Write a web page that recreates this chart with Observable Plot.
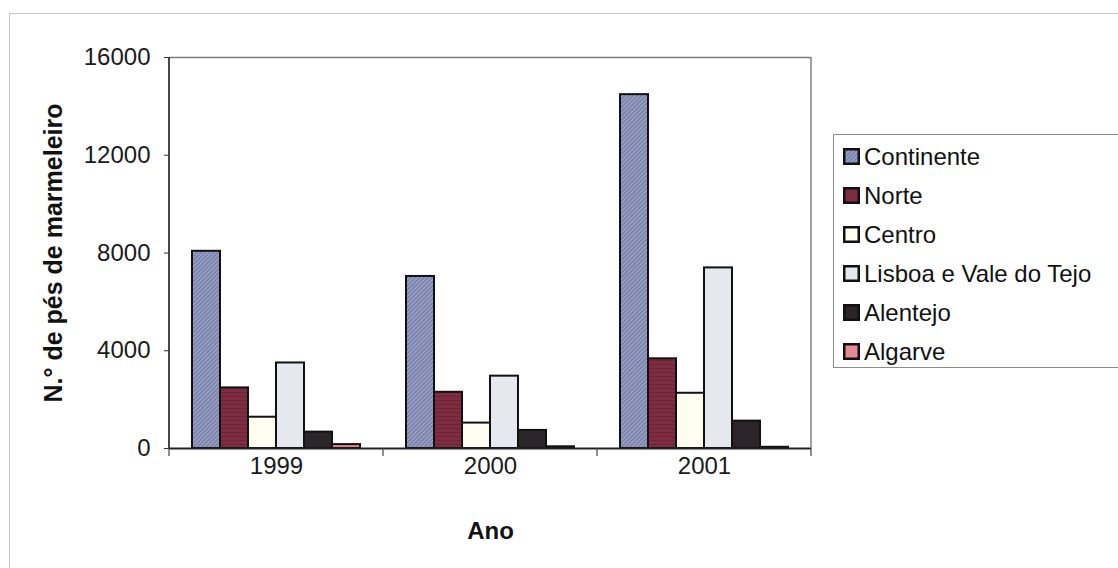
<!DOCTYPE html>
<html>
<head>
<meta charset="utf-8">
<script src="https://cdn.jsdelivr.net/npm/d3@7"></script>
<script src="https://cdn.jsdelivr.net/npm/@observablehq/plot@0.6"></script>
<style>
  html, body { margin: 0; padding: 0; background: #fff; overflow: hidden; }
  body { width: 1118px; height: 568px; position: relative; font-family: "Liberation Sans", Arial, sans-serif; }
  #sheet { position: absolute; left: 9px; top: 13px; width: 2000px; height: 2000px;
           border-left: 1.5px solid #c4c4c4; border-top: 1.5px solid #c4c4c4; }
  #chart { position: absolute; left: 0; top: 0; }
  #legend { position: absolute; left: 833px; top: 134px; width: 400px; height: 234px;
            border: 1px solid #8c8c8c; background: #fff; padding-top: 2px; box-sizing: border-box; }
  .row { height: 39px; display: flex; align-items: center; font-size: 24px; color: #111; }
  .row svg { margin-left: 9px; margin-right: 4px; flex: none; }
</style>
</head>
<body>
<svg width="0" height="0" style="position:absolute">
  <defs>
    <pattern id="hatchBlue" width="3" height="3" patternUnits="userSpaceOnUse" patternTransform="rotate(45)">
      <rect width="3" height="3" fill="#7b84ad"></rect>
      <rect width="1" height="3" fill="#a3abcb"></rect>
    </pattern>
    <pattern id="stripeRed" width="4" height="4" patternUnits="userSpaceOnUse">
      <rect width="4" height="4" fill="#7d2c41"></rect>
      <rect width="4" height="1" fill="#702337"></rect>
    </pattern>
  </defs>
</svg>
<div id="sheet"></div>
<div id="chart"></div>
<div id="legend"></div>
<script>
// Pés de marmeleiro por região (1999–2001)
const years = ["1999", "2000", "2001"];
const regions = ["Continente", "Norte", "Centro", "Lisboa e Vale do Tejo", "Alentejo", "Algarve"];
const values1999 = [8070, 2480, 1280, 3500, 670, 160];
const values2000 = [7040, 2300, 1040, 2960, 740, 70];
const values2001 = [14480, 3670, 2260, 7390, 1120, 50];
const yTicks = [0, 4000, 8000, 12000, 16000];
const fills = ["url(#hatchBlue)", "url(#stripeRed)", "#fdfdf0", "#e6e8ef", "#2b2428", "#df8891"];
const swatchFills = ["url(#hatchBlue)", "#7d2c41", "#fdfdf0", "#e6e8ef", "#2b2428", "#e48a96"];
const yTitle = "N.° de pés de marmeleiro";
const xTitle = "Ano";

const series = [values1999, values2000, values2001];
const table = years.flatMap((year, i) =>
  regions.map((region, j) => ({year, region, value: series[i][j]}))
);

const font = "'Liberation Sans', Arial, sans-serif";

const chart = Plot.plot({
  width: 1118,
  height: 568,
  marginLeft: 168,
  marginRight: 307,
  marginTop: 57,
  marginBottom: 120,
  style: {fontFamily: font, background: "transparent", color: "#111"},
  fx: {domain: years, padding: 0},
  x: {domain: regions, paddingInner: 0, paddingOuter: 0.73, axis: null},
  y: {domain: [0, 16000]},
  color: {domain: regions, range: fills},
  marks: [
    Plot.ruleY([16000], {stroke: "#7a7a7a", strokeWidth: 1.5}),
    Plot.barY(table, {fx: "year", x: "region", y: "value", fill: "region",
                      stroke: "#111", strokeWidth: 2}),
    Plot.ruleY([0], {stroke: "#222", strokeWidth: 1.8}),
    Plot.axisY({ticks: yTicks, tickFormat: d => String(d), tickSize: 5, tickPadding: 14,
                fontSize: 24, label: null, stroke: "#333", fill: "#1a1a1a"}),
    Plot.axisFx({anchor: "bottom", tickSize: 0, tickPadding: 8, fontSize: 24,
                 label: null, fill: "#1a1a1a"}),
    Plot.text([yTitle], {facet: "super", frameAnchor: "left", dx: -116, rotate: -90,
                         textAnchor: "middle", lineAnchor: "middle",
                         fontWeight: "bold", fontSize: 25, fill: "#111"}),
    Plot.text([xTitle], {facet: "super", frameAnchor: "bottom", dy: 83,
                         textAnchor: "middle", lineAnchor: "middle",
                         fontWeight: "bold", fontSize: 24, fill: "#111"})
  ]
});

// Side edges of the plot frame and the category boundary ticks, placed with the chart's scales
const fx = chart.scale("fx");
const ys = chart.scale("y");
const y0 = ys.apply(0), yTop = ys.apply(16000);
const edges = years.map(y => fx.apply(y)).concat([fx.apply(years[years.length - 1]) + fx.bandwidth]);
const svg = d3.select(chart);
const deco = svg.append("g");
deco.append("line").attr("x1", edges[0]).attr("x2", edges[0]).attr("y1", yTop).attr("y2", y0)
  .attr("stroke", "#333").attr("stroke-width", 1.8);
deco.append("line").attr("x1", edges[edges.length - 1]).attr("x2", edges[edges.length - 1])
  .attr("y1", yTop).attr("y2", y0).attr("stroke", "#808080").attr("stroke-width", 1.5);
deco.selectAll("line.b").data(edges).join("line").attr("class", "b")
  .attr("x1", d => d).attr("x2", d => d).attr("y1", y0).attr("y2", y0 + 8)
  .attr("stroke", "#444").attr("stroke-width", 1.2);

document.getElementById("chart").append(chart);

// Legend
const legend = d3.select("#legend");
regions.forEach((r, i) => {
  const row = legend.append("div").attr("class", "row");
  const s = row.append("svg").attr("width", 17).attr("height", 17);
  s.append("rect").attr("x", 1.25).attr("y", 1.25).attr("width", 14.5).attr("height", 14.5)
    .attr("fill", swatchFills[i]).attr("stroke", "#111").attr("stroke-width", 2.5);
  row.append("span").text(r);
});
</script>
</body>
</html>
